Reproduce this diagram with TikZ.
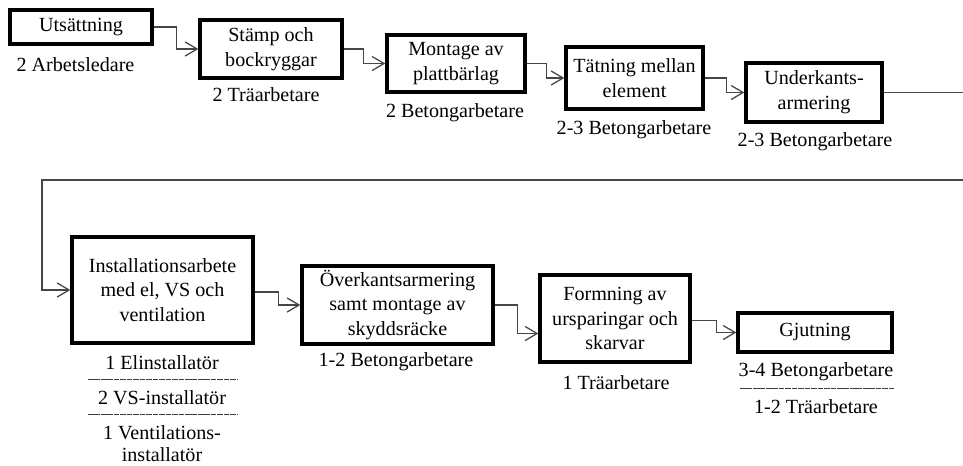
\documentclass[tikz,border=0pt]{standalone}
\usepackage{fontspec}
\setmainfont{Liberation Serif}
\usepackage{tikz}
\usetikzlibrary{arrows.meta, positioning, calc}
\definecolor{linegray}{RGB}{70,70,70}
\definecolor{sepgray}{RGB}{60,60,60}

\begin{document}
\begin{tikzpicture}[
  font=\fontsize{14.3}{17.7}\selectfont,
  task/.style={rectangle, draw=black, line width=2.4pt, fill=white, align=center,
               inner sep=0pt},
  crew/.style={align=center, inner sep=0pt},
  arr/.style={-{Straight Barb[length=8.5pt, width=10pt]}, line width=0.9pt, color=linegray},
  sep/.style={line width=0.6pt, color=sepgray, dash pattern=on 4pt off 0.6pt}
]
  \useasboundingbox (0,0) rectangle (24.075,-11.625);

  % first row
  \node[task, minimum width=3.55cm, minimum height=0.85cm]  (uts)   at (2.025,-0.675)   {Utsättning};
  \node[task, minimum width=3.55cm, minimum height=1.45cm]  (stamp) at (6.775,-1.225)   {Stämp och\\bockryggar};
  \node[task, minimum width=3.45cm, minimum height=1.425cm] (mont)  at (11.4,-1.5875)   {Montage av\\plattbärlag};
  \node[task, minimum width=3.425cm, minimum height=1.55cm] (tat)   at (15.8625,-1.95)  {Tätning mellan\\element};
  \node[task, minimum width=3.4cm, minimum height=1.475cm]  (under) at (20.35,-2.3125)  {Underkants-\\armering};

  \node[crew] (c_uts)   at (1.8875,-1.625) {2 Arbetsledare};
  \node[crew] (c_stamp) at (6.65,-2.375)   {2 Träarbetare};
  \node[crew] (c_mont)  at (11.375,-2.825) {2 Betongarbetare};
  \node[crew] (c_tat)   at (15.85,-3.25)   {2-3 Betongarbetare};
  \node[crew] (c_under) at (20.375,-3.55)  {2-3 Betongarbetare};

  % second row
  \node[task, minimum width=4.525cm, minimum height=2.65cm] (inst) at (4.0625,-7.25)   {Installationsarbete\\med el, VS och\\ventilation};
  \node[task, minimum width=4.775cm, minimum height=1.95cm] (over) at (9.9375,-7.625)   {Överkantsarmering\\samt montage av\\skyddsräcke};
  \node[task, minimum width=3.75cm, minimum height=2.175cm] (form) at (15.375,-7.9625)  {Formning av\\ursparingar och\\skarvar};
  \node[task, minimum width=3.85cm, minimum height=0.975cm] (gjut) at (20.375,-8.3125)  {Gjutning};

  \node[crew] (c_el)   at (4.05,-9.075) {1 Elinstallatör};
  \node[crew] (c_vs)   at (4.05,-9.95)  {2 VS-installatör};
  \node[crew] (c_vent) at (4.05,-11.1)  {1 Ventilations-\\[-2pt]installatör};
  \node[crew] (c_over) at (9.9,-9.05)   {1-2 Betongarbetare};
  \node[crew] (c_form) at (15.4,-9.575) {1 Träarbetare};
  \node[crew] (c_bet)  at (20.4,-9.3)   {3-4 Betongarbetare};
  \node[crew] (c_tra)  at (20.4,-10.175){1-2 Träarbetare};

  \draw[sep] (2.2,-9.475) -- (5.925,-9.475);
  \draw[sep] (2.2,-10.35) -- (5.925,-10.35);
  \draw[sep] (18.5,-9.7) -- (22.375,-9.7);

  % connectors
  \coordinate (rt) at (24.4,-4.5);
  \coordinate (lf) at (1.05,-4.5);
  \draw[arr] (uts.east)   -- ++(0.575,0) |- (stamp.west);
  \draw[arr] (stamp.east) -- ++(0.5,0)   |- (mont.west);
  \draw[arr] (mont.east)  -- ++(0.5,0)   |- (tat.west);
  \draw[arr] (tat.east)   -- ++(0.55,0)  |- (under.west);
  \draw[arr] (under.east) -| (rt) -- (lf) |- (inst.west);
  \draw[arr] ([yshift=-0.05cm]inst.east) -- ++(0.6,0) |- (over.west);
  \draw[arr] (over.east)  -- ++(0.575,0) |- ([yshift=-0.375cm]form.west);
  \draw[arr] ([yshift=-0.05cm]form.east) -- ++(0.625,0) |- (gjut.west);
\end{tikzpicture}
\end{document}
